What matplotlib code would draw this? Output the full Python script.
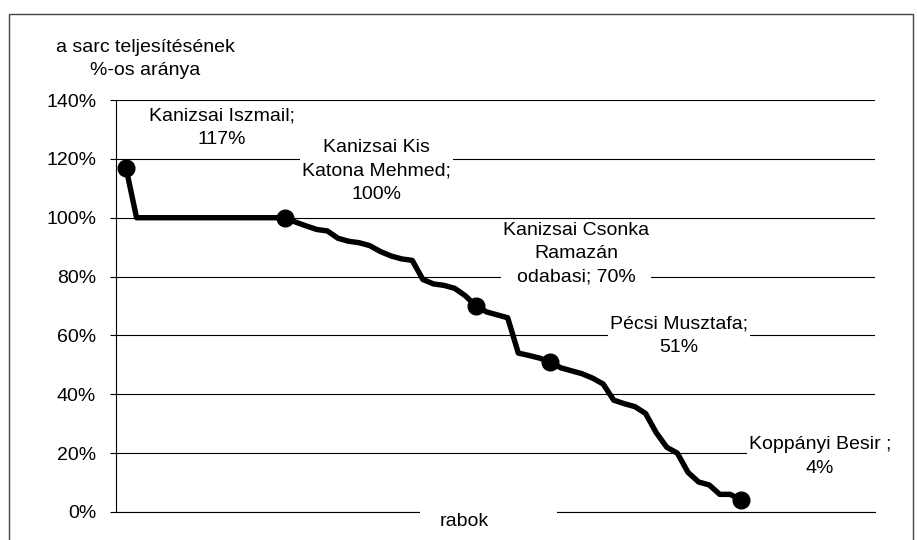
import matplotlib
matplotlib.use('Agg')
import matplotlib.pyplot as plt
from matplotlib.patches import Rectangle

plt.rcParams['font.family'] = ['Liberation Sans', 'DejaVu Sans']
plt.rcParams['font.size'] = 14

# a sarc teljesitesenek aranya rabonkent (%), csokkeno sorrendben
ertekek = [117,
           100, 100, 100, 100, 100, 100, 100, 100, 100, 100, 100, 100, 100, 100, 100,
           98.5, 97.2, 96, 95.5, 93, 92, 91.5, 90.5, 88.5, 87, 86, 85.5,
           79, 77.5, 77, 76, 73.5, 70, 68, 67, 66,
           54, 53.2, 52.3, 51, 49, 48, 47, 45.5, 43.5,
           38, 36.8, 35.8, 33.5, 27, 22, 20, 13.5, 10.2, 9.2, 6, 6, 4]
rabok = list(range(len(ertekek)))

# kiemelt rabok
kiemelt = [0, 15, 33, 40, 58]
cimkek = ['Kanizsai Iszmail;\n{}%',
          'Kanizsai Kis\nKatona Mehmed;\n{}%',
          'Kanizsai Csonka\nRamazán\nodabasi; {}%',
          'Pécsi Musztafa;\n{}%',
          'Koppányi Besir ;\n{}%']
eltolas = [(69, 29), (66, 33.5), (72, 37.5), (93, 19), (57, 31.5)]

yticks = [0, 20, 40, 60, 80, 100, 120, 140]

fig = plt.figure(figsize=(9.17, 5.40), dpi=100)
ax = fig.add_axes([116/917, 28/540, 759/917, 412/540])

ax.plot(rabok, ertekek, color='black', lw=3.9, solid_joinstyle='round', zorder=3)
ax.plot([rabok[i] for i in kiemelt], [ertekek[i] for i in kiemelt], 'o',
        color='black', ms=12, zorder=4)

for i, c, d in zip(kiemelt, cimkek, eltolas):
    ax.annotate(c.format(round(ertekek[i])), xy=(rabok[i], ertekek[i]),
                xytext=d, textcoords='offset points', ha='center', va='center',
                linespacing=1.5, zorder=5,
                bbox=dict(boxstyle='square,pad=0.1', fc='white', ec='none'))

ax.set_xlim(-0.94, 70.64)
ax.set_ylim(0, 140)
ax.set_yticks(yticks)
ax.set_yticklabels([f'{t}%' for t in yticks])
ax.set_xticks([])
ax.tick_params(axis='y', length=4.3, width=0.8, pad=10)
ax.yaxis.grid(True, color='black', lw=0.8)
ax.set_axisbelow(True)
for s in ['top', 'right']:
    ax.spines[s].set_visible(False)
ax.spines['left'].set_linewidth(0.8)
ax.spines['bottom'].set_linewidth(0.8)

# tengelycimek
fig.text(145/917, 1 - 59/540, 'a sarc teljesítésének\n%-os aránya',
         ha='center', va='center', linespacing=1.45)
fig.add_artist(Rectangle((420/917, 0), 137/917, 36/540, transform=fig.transFigure,
                         fc='white', ec='none', zorder=2))
fig.text(464/917, 1 - 521/540, 'rabok', ha='center', va='center', zorder=3)

# keret
fig.add_artist(Rectangle((9/917, -0.05), 904/917, 526/540 + 0.05,
                         transform=fig.transFigure, fill=False,
                         ec='#444444', lw=1, zorder=6))

fig.savefig('out.png', dpi=100)
